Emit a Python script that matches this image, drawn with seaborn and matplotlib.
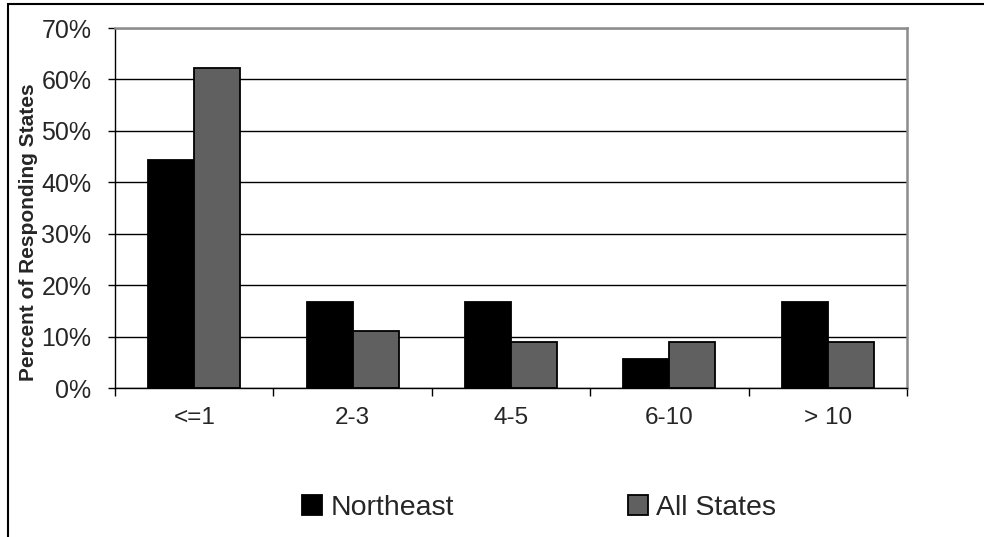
import pandas as pd
import matplotlib
matplotlib.use("Agg")
import matplotlib.pyplot as plt
import seaborn as sns
from matplotlib.patches import Rectangle

# Datos (porcentaje de estados que responden)
categorias = ["<=1", "2-3", "4-5", "6-10", "> 10"]
northeast = [44.4, 16.7, 16.7, 5.6, 16.7]
all_states = [62.2, 11.1, 8.9, 8.9, 8.9]
series = ["Northeast", "All States"]
colores = ["#000000", "#606060"]

df = pd.DataFrame({
    "Categoria": categorias * 2,
    "Serie": [series[0]] * len(categorias) + [series[1]] * len(categorias),
    "Valor": northeast + all_states,
})

sns.set_style("white")
plt.rcParams["font.family"] = ["Liberation Sans", "DejaVu Sans"]

fig = plt.figure(figsize=(9.84, 5.37), dpi=100)
ax = fig.add_axes([115 / 984, 149 / 537, 792 / 984, 360 / 537])

sns.barplot(data=df, x="Categoria", y="Valor", hue="Serie", palette=colores,
            width=0.58, gap=0, edgecolor="black", linewidth=1.3, ax=ax,
            legend=False)

# Ejes y cuadricula
ax.set_ylim(0, 70)
ax.set_xlim(-0.5, len(categorias) - 0.5)
ax.set_yticks(range(0, 71, 10))
ax.set_yticklabels([f"{v}%" for v in range(0, 71, 10)], fontsize=18)
ax.yaxis.grid(True, color="black", linewidth=1)
ax.set_axisbelow(True)
ax.tick_params(axis="y", direction="out", length=5, width=1, color="black",
               pad=12, left=True)
ax.set_xticks(range(len(categorias)))
ax.set_xticklabels(categorias, fontsize=17.5)
ax.tick_params(axis="x", length=0, pad=14)
ax.set_xticks([i - 0.5 for i in range(len(categorias) + 1)], minor=True)
ax.tick_params(axis="x", which="minor", direction="out", length=6, width=1,
               color="black", bottom=True)
ax.set_xlabel("")
ax.set_ylabel("Percent of Responding States", fontsize=15, fontweight="bold")
ax.yaxis.set_label_coords(-0.097, 0.432)

for lado in ["left", "bottom"]:
    ax.spines[lado].set_color("black")
    ax.spines[lado].set_linewidth(1)
for lado in ["top", "right"]:
    ax.spines[lado].set_visible(True)
    ax.spines[lado].set_color("#8c8c8c")
    ax.spines[lado].set_linewidth(1.8)

# Leyenda abajo
handles = [Rectangle((0, 0), 1, 1, facecolor=c, edgecolor="black", linewidth=1.3)
           for c in colores]
fig.legend(handles, series, loc="center", bbox_to_anchor=(0.548, 0.054),
           ncol=2, frameon=False, fontsize=20.5, handlelength=0.7,
           handleheight=0.7, handletextpad=0.3, columnspacing=6.1)

# Borde del area del grafico (recortado a derecha y abajo)
fig.patches.append(Rectangle((8 / 984, -0.1), 1.2, 1 - 4 / 537 + 0.1,
                             transform=fig.transFigure, fill=False,
                             edgecolor="black", linewidth=1.5))

fig.savefig("out.png", dpi=100)
